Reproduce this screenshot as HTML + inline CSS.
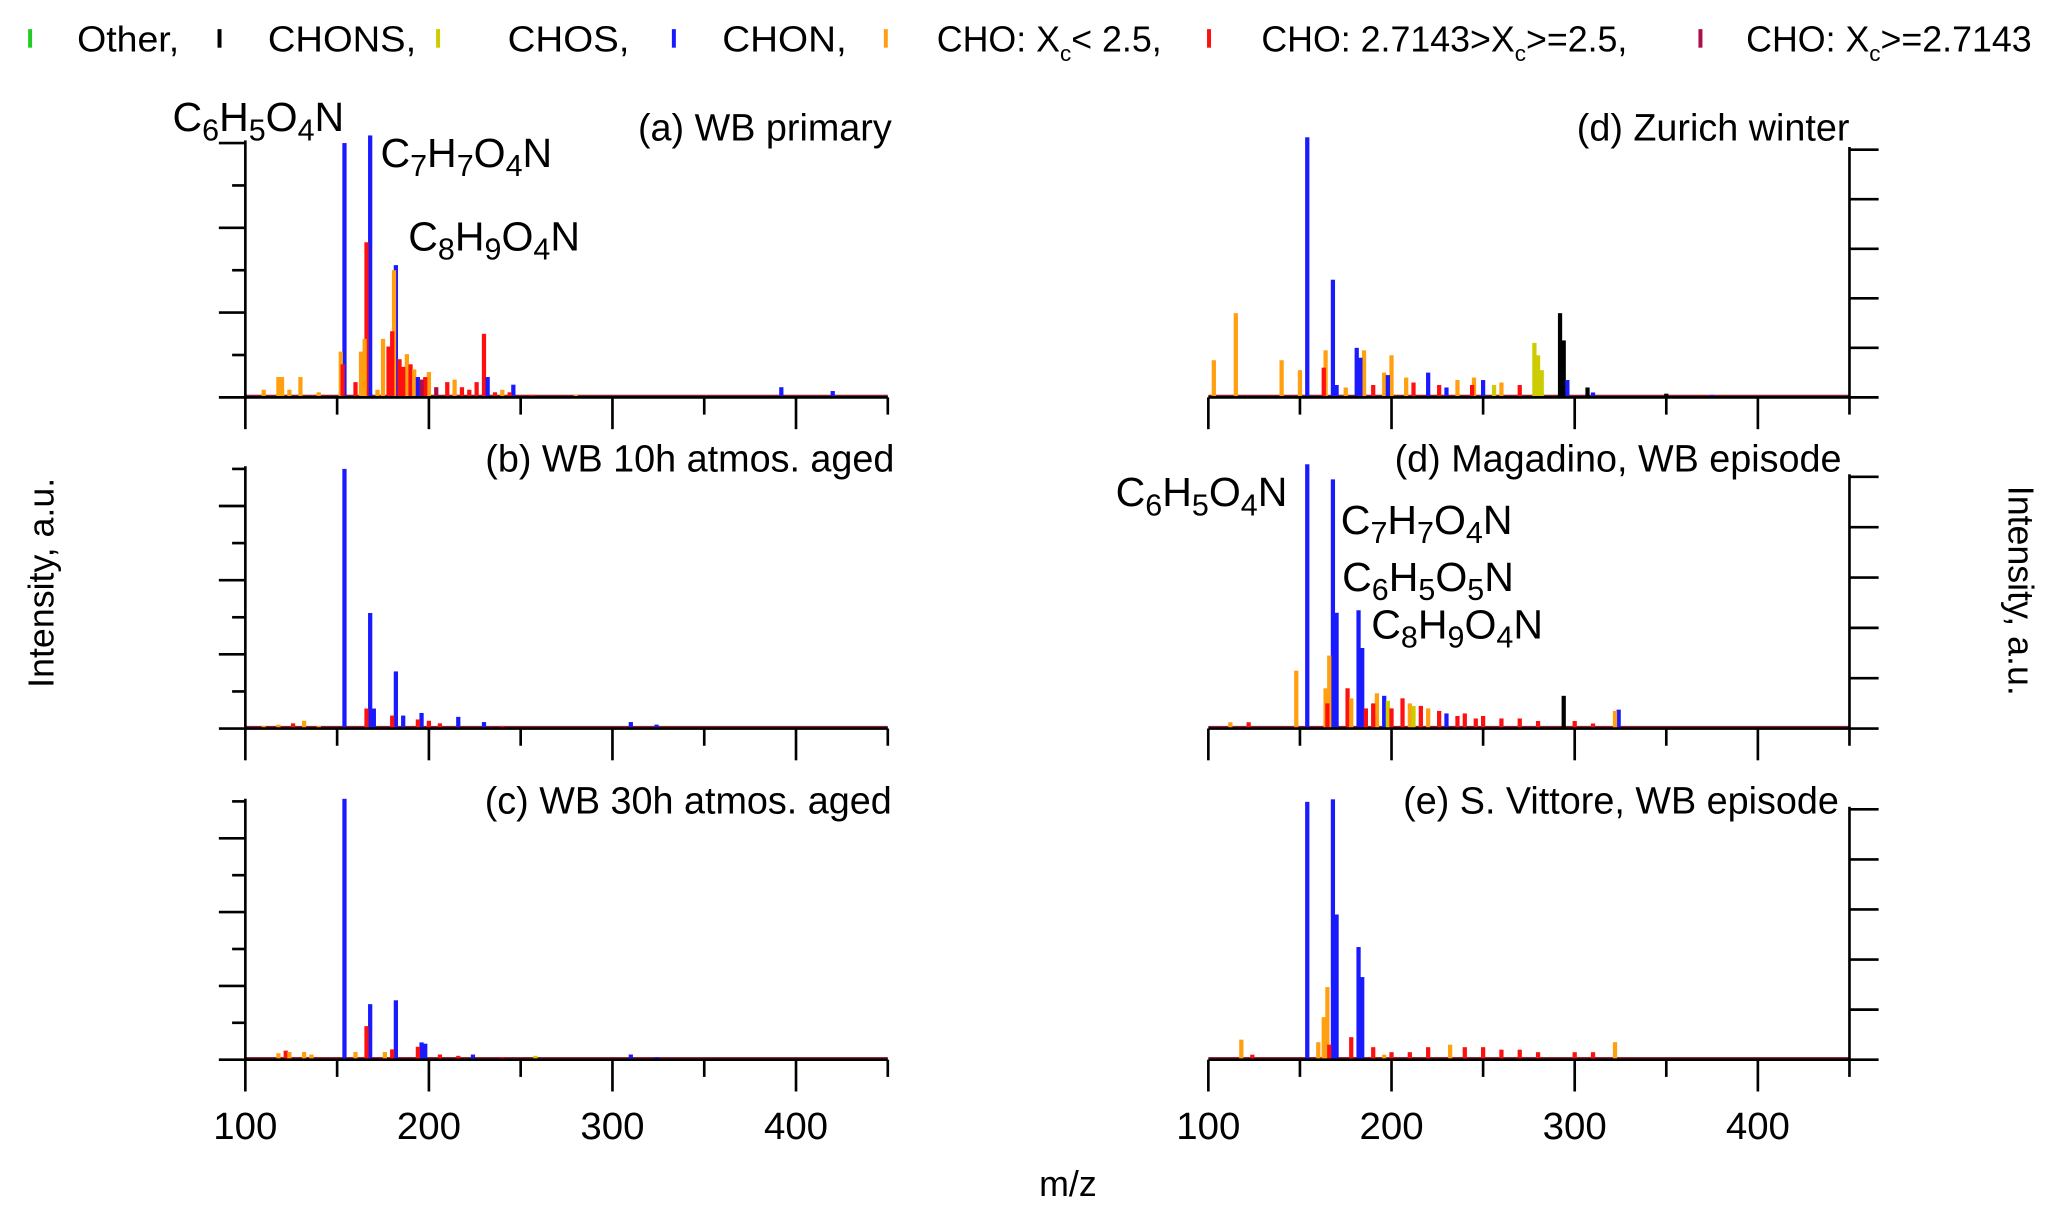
<!DOCTYPE html>
<html><head><meta charset="utf-8">
<style>
html,body{margin:0;padding:0;background:#fff;}
svg{display:block;font-family:"Liberation Sans",Arial,sans-serif;}
</style></head>
<body>
<svg id="chart" width="2067" height="1216" viewBox="0 0 1560 918" xmlns="http://www.w3.org/2000/svg">
<g id="legend" font-size="27">
  <g><rect x="21" y="22" width="3" height="14" fill="#22cc22"/><text x="58" y="39" textLength="77" lengthAdjust="spacingAndGlyphs">Other,</text></g>
  <g><rect x="164" y="22" width="3" height="14" fill="#000"/><text x="202" y="39" textLength="112" lengthAdjust="spacingAndGlyphs">CHONS,</text></g>
  <g><rect x="329" y="22" width="3" height="14" fill="#cccc00"/><text x="383" y="39" textLength="92" lengthAdjust="spacingAndGlyphs">CHOS,</text></g>
  <g><rect x="507" y="22" width="3" height="14" fill="#1a1aff"/><text x="545" y="39" textLength="94" lengthAdjust="spacingAndGlyphs">CHON,</text></g>
  <g><rect x="667" y="22" width="3" height="14" fill="#ffa010"/><text x="707" y="39">CHO: X<tspan font-size="17" dy="7">c</tspan><tspan dy="-7">&lt; 2.5,</tspan></text></g>
  <g><rect x="911" y="22" width="3" height="14" fill="#ff1010"/><text x="952" y="39">CHO: 2.7143&gt;X<tspan font-size="17" dy="7">c</tspan><tspan dy="-7">&gt;=2.5,</tspan></text></g>
  <g><rect x="1282" y="22" width="3" height="14" fill="#aa1048"/><text x="1318" y="39">CHO: X<tspan font-size="17" dy="7">c</tspan><tspan dy="-7">&gt;=2.7143</tspan></text></g>
</g>
<g id="panels"></g>
<text font-size="27" transform="translate(40,440) rotate(-90)" text-anchor="middle">Intensity, a.u.</text>
<text font-size="27" transform="translate(1516,446) rotate(90)" text-anchor="middle">Intensity, a.u.</text>
<text font-size="27" x="806" y="903" text-anchor="middle">m/z</text>
</svg>
<script>
const COLORS = {O:'#22cc22',S:'#000000',Y:'#cccc00',B:'#1a1aff',G:'#ffa010',R:'#ff1010',P:'#aa1048'};
// Panel (a) WB primary
const aMz  = [154,168,166,182,181,180,179,175,178,163,152,153,165,188,190,230,232,194,392,420,118,120,130,110,172,184,186,192,200,198,210,214,222,226,240,246,244,124,140,160,196,204,218,236,256,280];
const aVal = [1.0,1.03,0.61,0.52,0.5,0.26,0.2,0.23,0.2,0.18,0.18,0.13,0.23,0.17,0.13,0.25,0.08,0.08,0.04,0.025,0.08,0.08,0.08,0.03,0.03,0.15,0.12,0.11,0.1,0.08,0.06,0.07,0.03,0.06,0.03,0.05,0.02,0.03,0.02,0.06,0.07,0.04,0.04,0.02,0.01,0.01];
const aCls = ['B','B','R','B','G','R','R','G','R','G','G','R','G','G','R','R','B','B','B','B','G','G','G','G','G','R','R','G','G','R','R','G','R','R','G','B','R','G','G','R','P','P','R','R','R','Y'];
// Panel (b) WB 10h
const bMz  = [154,168,182,166,170,180,186,196,194,216,230,310,324,110,118,126,132,140,200,206,240];
const bVal = [1.0,0.445,0.22,0.077,0.077,0.05,0.05,0.06,0.035,0.045,0.025,0.025,0.015,0.01,0.015,0.02,0.03,0.01,0.03,0.02,0.01];
const bCls = ['B','B','B','R','B','R','B','B','R','B','B','B','B','G','G','R','G','G','R','R','R'];
// Panel (c) WB 30h
const cMz  = [154,168,182,166,196,198,194,180,124,122,132,224,310,258,160,176,206,216,240,324,118,136];
const cVal = [1.01,0.215,0.23,0.13,0.067,0.062,0.05,0.04,0.03,0.035,0.03,0.02,0.02,0.015,0.03,0.03,0.02,0.015,0.01,0.01,0.025,0.02];
const cCls = ['B','B','B','R','B','B','R','R','G','R','G','B','B','Y','G','G','R','R','R','B','G','G'];
// Panel (d) Zurich winter
const dMz  = [154,168,103,115,140,150,164,163,170,181,183,185,200,198,196,220,208,230,236,245,244,256,250,278,280,282,292,294,296,307,310,350,375,212,226,260,270,190,175];
const dVal = [1.05,0.475,0.15,0.34,0.15,0.11,0.19,0.12,0.05,0.2,0.16,0.19,0.17,0.09,0.1,0.1,0.08,0.04,0.07,0.08,0.05,0.05,0.07,0.22,0.17,0.11,0.34,0.23,0.07,0.04,0.02,0.015,0.01,0.06,0.05,0.06,0.05,0.05,0.04];
const dCls = ['B','B','G','G','G','G','G','R','B','B','B','G','G','B','G','B','G','B','G','G','R','Y','B','Y','Y','Y','S','S','B','S','B','S','B','R','R','G','R','R','G'];
// Panel (d) Magadino
const mMz  = [154,168,170,182,184,148,166,164,165,176,178,192,190,198,196,200,206,210,212,230,220,294,322,324,112,122,226,240,250,260,270,280,300,310,186,216,236,246];
const mVal = [1.05,0.99,0.46,0.47,0.32,0.23,0.29,0.16,0.1,0.16,0.12,0.14,0.1,0.11,0.13,0.08,0.12,0.1,0.09,0.06,0.08,0.13,0.07,0.075,0.025,0.025,0.07,0.06,0.05,0.04,0.04,0.03,0.03,0.02,0.08,0.09,0.05,0.04];
const mCls = ['B','B','B','B','B','G','G','G','R','R','G','G','R','Y','B','R','R','G','Y','B','G','S','G','B','G','R','R','R','R','R','R','R','R','R','R','R','R','R'];
// Panel (e) S. Vittore
const eMz  = [154,168,170,182,184,165,163,160,166,178,118,190,232,322,260,124,200,210,220,240,250,270,280,300,310,196];
const eVal = [1.03,1.04,0.58,0.45,0.33,0.29,0.17,0.07,0.06,0.09,0.08,0.05,0.06,0.07,0.04,0.02,0.03,0.03,0.05,0.05,0.05,0.04,0.03,0.03,0.03,0.02];
const eCls = ['B','B','B','B','B','G','G','G','R','R','G','R','G','G','R','R','R','R','R','R','R','R','R','R','R','G'];
const xTicks = [100,150,200,250,300,350,400,450];
const xTickLabels = ['100','200','300','400'];

const NS='http://www.w3.org/2000/svg';
const root=document.getElementById('panels');
function mk(tag,attrs,parent){const e=document.createElementNS(NS,tag);for(const k in attrs)e.setAttribute(k,attrs[k]);parent.appendChild(e);return e;}

const panels=[
 {id:'a',name:'panel-a-wb-primary',mz:aMz,val:aVal,cls:aCls,x0:185,x1:670,base:300,top:108,nt:6,side:'L',title:'(a) WB primary',tx:673,ty:106,lab:false},
 {id:'b',name:'panel-b-wb-10h',mz:bMz,val:bVal,cls:bCls,x0:185,x1:670,base:550,top:354,nt:7,side:'L',title:'(b) WB 10h atmos. aged',tx:675,ty:356,lab:false},
 {id:'c',name:'panel-c-wb-30h',mz:cMz,val:cVal,cls:cCls,x0:185,x1:670,base:800,top:605,nt:7,side:'L',title:'(c) WB 30h atmos. aged',tx:673,ty:614,lab:true},
 {id:'d',name:'panel-d-zurich',mz:dMz,val:dVal,cls:dCls,x0:912,x1:1396,base:300,top:113,nt:5,side:'R',title:'(d) Zurich winter',tx:1396,ty:106,lab:false},
 {id:'m',name:'panel-d-magadino',mz:mMz,val:mVal,cls:mCls,x0:912,x1:1396,base:550,top:360,nt:5,side:'R',title:'(d) Magadino, WB episode',tx:1390,ty:356,lab:false},
 {id:'e',name:'panel-e-s-vittore',mz:eMz,val:eVal,cls:eCls,x0:912,x1:1396,base:800,top:611,nt:5,side:'R',title:'(e) S. Vittore, WB episode',tx:1388,ty:614,lab:true}
];
panels.forEach(p=>{
  const g=mk('g',{},root);
  
  
  const xs=m=>p.x0+(m-100)/350*(p.x1-p.x0);
  const ys=v=>p.base-v*(p.base-p.top);
  const bl=mk('rect',{x:p.x0,y:p.base-2,width:p.x1-p.x0,height:2,fill:'#8a2030'},g);
  
  
  const idx=p.mz.map((_,i)=>i).sort((i,j)=>p.val[j]-p.val[i]);
  idx.forEach(i=>{
    const y=ys(p.val[i]);
    const r=mk('rect',{x:xs(p.mz[i])-1.6,y:y,width:3.2,height:p.base-y,fill:COLORS[p.cls[i]]},g);
    
    
  });
  mk('line',{x1:p.x0-(p.side==='L'?20:0),y1:p.base,x2:p.x1+(p.side==='R'?22:0),y2:p.base,stroke:'#000','stroke-width':2},g);
  xTicks.forEach((t,k)=>{
    const x=xs(t);const len=(k%2===0)?24:13;
    mk('line',{x1:x,y1:p.base,x2:x,y2:p.base+len,stroke:'#000','stroke-width':2},g);
  });
  const ax=p.side==='L'?p.x0:p.x1;
  mk('line',{x1:ax,y1:p.top-2,x2:ax,y2:p.base,stroke:'#000','stroke-width':2},g);
  for(let k=1;k<=p.nt;k++){
    const y=p.base-(p.base-p.top)*k/p.nt;
    let len;
    if(p.side==='L')len=(k%2===0)?20:10;else len=22;
    const x2=p.side==='L'?ax-len:ax+len;
    mk('line',{x1:ax,y1:y,x2:x2,y2:y,stroke:'#000','stroke-width':2},g);
  }
  const tt=mk('text',{x:p.tx,y:p.ty,'text-anchor':'end','font-size':28.5},g);
  tt.textContent=p.title;
  
  
  if(p.lab){
    xTickLabels.forEach((l,k)=>{
      const t=mk('text',{x:xs(100+k*100),y:860,'text-anchor':'middle','font-size':29},g);
      t.textContent=l;
      
      
    });
  }
});
const formulas=[
 ['C','6','H','5','O','4','N',130,99],['C','7','H','7','O','4','N',287,126],['C','8','H','9','O','4','N',308,189],
 ['C','6','H','5','O','4','N',842,382],['C','7','H','7','O','4','N',1012,403],['C','6','H','5','O','5','N',1013,446],['C','8','H','9','O','4','N',1035,482]
];
formulas.forEach(f=>{
  const t=mk('text',{x:f[7],y:f[8],'font-size':31},root);
  
  
  t.innerHTML=`${f[0]}<tspan font-size="23" dy="7">${f[1]}</tspan><tspan dy="-7">${f[2]}</tspan><tspan font-size="23" dy="7">${f[3]}</tspan><tspan dy="-7">${f[4]}</tspan><tspan font-size="23" dy="7">${f[5]}</tspan><tspan dy="-7">${f[6]}</tspan>`;
});
</script>
</body></html>
